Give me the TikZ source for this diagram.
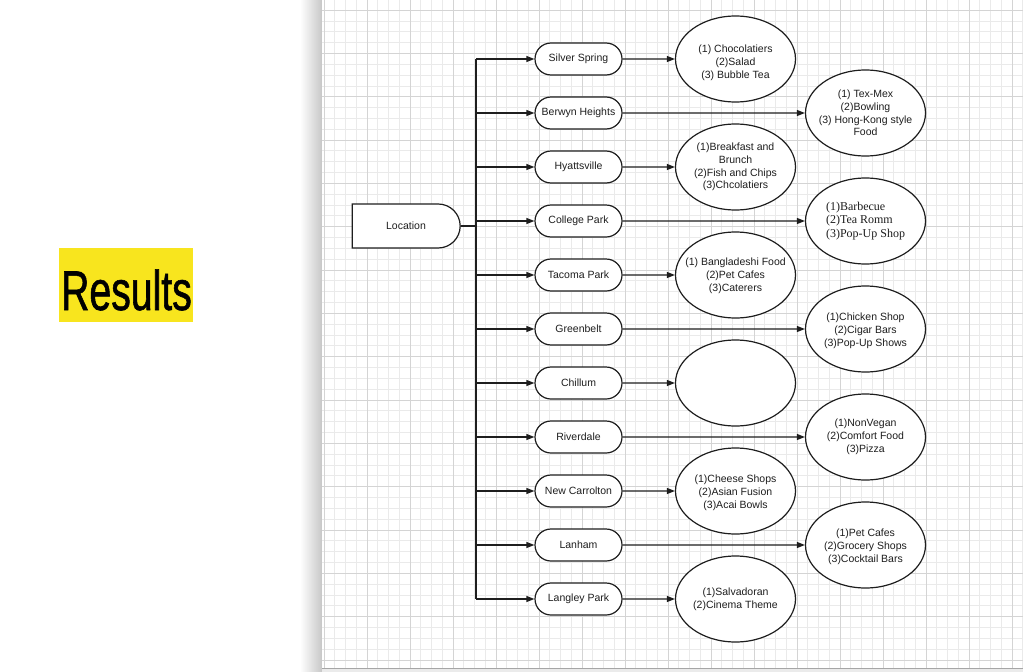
\documentclass[tikz,border=0pt]{standalone}
\usepackage{fontspec}
\setmainfont{Liberation Sans}
\newfontfamily\serifalt{Liberation Serif}
\newfontfamily\titlefont[FakeStretch=0.7,FakeBold=1]{Liberation Sans}
\usepackage{tikz}
\usetikzlibrary{arrows.meta, shapes.misc, shapes.geometric}
\definecolor{resyellow}{RGB}{248,229,30}
\definecolor{gridminor}{RGB}{234,234,234}
\definecolor{gridmajor}{RGB}{212,212,212}
\definecolor{inkdark}{RGB}{30,30,30}

\tikzset{
  city/.style={draw=inkdark, fill=white, line width=1.2pt, rounded rectangle,
    minimum width=87pt, minimum height=32pt, inner sep=0pt,
    font=\fontsize{10.5}{12.5}\selectfont, text=inkdark},
  food/.style={draw=inkdark, fill=white, line width=1.2pt, ellipse,
    minimum width=120pt, minimum height=86pt, inner sep=0pt},
  foodtxt/.style={align=center, inner sep=0pt, text=inkdark,
    font=\fontsize{10.5}{12.8}\selectfont},
  link/.style={draw=inkdark, line width=1.2pt},
  arr/.style={link, -{Triangle[length=8pt,width=6pt]}}
}

\begin{document}
\begin{tikzpicture}[x=1pt, y=-1pt]
\useasboundingbox (0,0) rectangle (1023,672);
% page
\fill[white] (0,0) rectangle (1023,672);

% results label
\fill[resyellow] (59,248) rectangle (193,322);
\node[anchor=base, inner sep=0pt, font=\titlefont\fontsize{56}{56}\selectfont] (res) at (126.5,310) {Results};

% canvas with grid
\shade[left color=white, right color=black!22] (300,0) rectangle (322,672);
\fill[white] (322,0) rectangle (1023,668);
\foreach \k in {0,...,65} {
  \draw[gridminor, line width=0.6pt] ({324+10.75*\k},0) -- ({324+10.75*\k},668);
}
\foreach \k in {0,...,60} {
  \draw[gridminor, line width=0.6pt] (322,{10+10.83*\k}) -- (1023,{10+10.83*\k});
}
\foreach \k in {0,...,16} {
  \draw[gridmajor, line width=0.8pt] ({324+43*\k},0) -- ({324+43*\k},668);
}
\foreach \k in {0,...,15} {
  \draw[gridmajor, line width=0.8pt] (322,{10+43.33*\k}) -- (1023,{10+43.33*\k});
}
\fill[black!8] (322,668) rectangle (1023,672);
\draw[black!35, line width=0.7pt] (322,668) -- (1023,668);

% root
\node[draw=inkdark, fill=white, line width=1.2pt, rounded rectangle,
  rounded rectangle west arc=none, minimum width=108pt, minimum height=44pt,
  inner sep=0pt, font=\fontsize{10.5}{12.5}\selectfont, text=inkdark] (loc) at (406,226) {Location};

% trunk
\coordinate (ttop) at (476,59);
\coordinate (tbot) at (476,599);
\coordinate (tjoin) at (476,226);
\draw[link] (loc.east) -- (tjoin);
\draw[link] (ttop) -- (tbot);

% cities
\node[city] (c1)  at (578.5,59)  {Silver Spring};
\node[city] (c2)  at (578.5,113) {Berwyn Heights};
\node[city] (c3)  at (578.5,167) {Hyattsville};
\node[city] (c4)  at (578.5,221) {College Park};
\node[city] (c5)  at (578.5,275) {Tacoma Park};
\node[city] (c6)  at (578.5,329) {Greenbelt};
\node[city] (c7)  at (578.5,383) {Chillum};
\node[city] (c8)  at (578.5,437) {Riverdale};
\node[city] (c9)  at (578.5,491) {New Carrolton};
\node[city] (c10) at (578.5,545) {Lanham};
\node[city] (c11) at (578.5,599) {Langley Park};

% branches
\foreach \c in {c1,c2,c3,c4,c5,c6,c7,c8,c9,c10,c11} {
  \draw[arr] (\c -| ttop) -- (\c);
}

% food ellipses, left column
\node[food] (f1)  at (735.5,59)  {};
\node[food] (f3)  at (735.5,167) {};
\node[food] (f5)  at (735.5,275) {};
\node[food] (f7)  at (735.5,383) {};
\node[food] (f9)  at (735.5,491) {};
\node[food] (f11) at (735.5,599) {};

% food ellipses, right column
\node[food] (f2)  at (865.5,113) {};
\node[food] (f4)  at (865.5,221) {};
\node[food] (f6)  at (865.5,329) {};
\node[food] (f8)  at (865.5,437) {};
\node[food] (f10) at (865.5,545) {};

% ellipse texts
\node[foodtxt] (t1) at ([yshift=-4pt]f1) {(1) Chocolatiers\\(2)Salad\\(3) Bubble Tea};
\node[foodtxt] (t2) at (f2) {(1) Tex-Mex\\(2)Bowling\\(3) Hong-Kong style\\Food};
\node[foodtxt] (t3) at (f3) {(1)Breakfast and\\Brunch\\(2)Fish and Chips\\(3)Chcolatiers};
\node[foodtxt, align=left, font=\serifalt\fontsize{12}{13.5}\selectfont] (t4) at (f4)
  {(1)Barbecue\\(2)Tea Romm\\(3)Pop-Up Shop};
\node[foodtxt] (t5) at ([yshift=-1pt]f5) {(1) Bangladeshi Food\\(2)Pet Cafes\\(3)Caterers};
\node[foodtxt] (t6) at ([yshift=-2pt]f6) {(1)Chicken Shop\\(2)Cigar Bars\\(3)Pop-Up Shows};
\node[foodtxt] (t8) at (f8) {(1)NonVegan\\(2)Comfort Food\\(3)Pizza};
\node[foodtxt] (t9) at ([yshift=-2pt]f9) {(1)Cheese Shops\\(2)Asian Fusion\\(3)Acai Bowls};
\node[foodtxt] (t10) at ([yshift=-2pt]f10) {(1)Pet Cafes\\(2)Grocery Shops\\(3)Cocktail Bars};
\node[foodtxt] (t11) at (f11) {(1)Salvadoran\\(2)Cinema Theme};

% city to food
\foreach \c/\f in {c1/f1,c2/f2,c3/f3,c4/f4,c5/f5,c6/f6,c7/f7,c8/f8,c9/f9,c10/f10,c11/f11} {
  \draw[arr] (\c) -- (\f);
}
\end{tikzpicture}
\end{document}
